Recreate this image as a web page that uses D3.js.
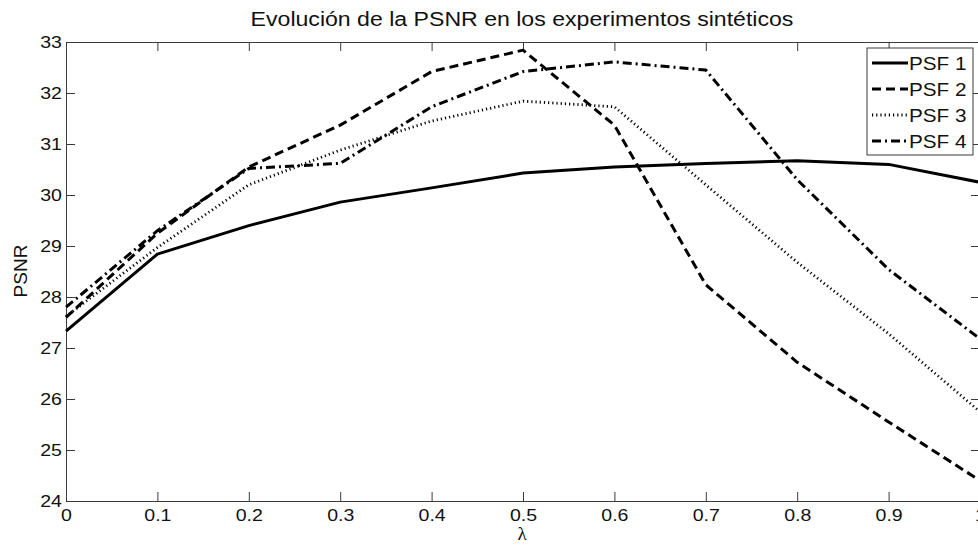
<!DOCTYPE html>
<html>
<head>
<meta charset="utf-8">
<script src="https://cdn.jsdelivr.net/npm/d3@7"></script>
<style>
  html, body { margin: 0; padding: 0; background: #fff; }
  svg { display: block; }
</style>
</head>
<body>
<svg id="chart" width="978" height="546"></svg>
<script>
// ---- data ----
const lambda = [0, 0.1, 0.2, 0.3, 0.4, 0.5, 0.6, 0.7, 0.8, 0.9, 1.0];
const psf1 = [27.33, 28.84, 29.40, 29.86, 30.14, 30.43, 30.55, 30.62, 30.67, 30.60, 30.25];
const psf2 = [27.60, 29.25, 30.55, 31.37, 32.42, 32.84, 31.37, 28.24, 26.72, 25.55, 24.40];
const psf3 = [27.62, 28.97, 30.20, 30.88, 31.45, 31.84, 31.73, 30.20, 28.68, 27.28, 25.75];
const psf4 = [27.80, 29.30, 30.52, 30.62, 31.73, 32.42, 32.61, 32.45, 30.30, 28.54, 27.18];
const seriesNames = ["PSF 1", "PSF 2", "PSF 3", "PSF 4"];
const xTicks = [0, 0.1, 0.2, 0.3, 0.4, 0.5, 0.6, 0.7, 0.8, 0.9, 1];
const yTicks = [24, 25, 26, 27, 28, 29, 30, 31, 32, 33];
const titleText = "Evolución de la PSNR en los experimentos sintéticos";
const xLabel = "λ";
const yLabel = "PSNR";

// ---- layout / styles ----
const svg = d3.select("#chart");
const L = 66, R = 980, T = 42, B = 501;
const x = d3.scaleLinear().domain([0, 1]).range([L, R]);
const y = d3.scaleLinear().domain([24, 33]).range([B, T]);
const FONT = "'Liberation Sans', Arial, Helvetica, sans-serif";
const SX = 1.15;
const styles = [
  { width: 3, dash: null },
  { width: 3, dash: "9,5" },
  { width: 2.8, dash: "1.2,3" },
  { width: 3, dash: "9,4,2,4" }
];
const series = [psf1, psf2, psf3, psf4];

const axisColor = "#3a3a3a";

function styleAxis(g, labels) {
  g.select(".domain").attr("stroke", axisColor).attr("stroke-width", 1);
  g.selectAll(".tick line").attr("stroke", axisColor).attr("stroke-width", 1);
  g.selectAll(".tick text")
    .attr("fill", "#111")
    .style("font-family", FONT)
    .style("font-size", "17px")
    .attr("transform", `scale(${SX},1)`);
  if (!labels) g.selectAll(".tick text").remove();
}

// bottom axis
const gx = svg.append("g").attr("transform", `translate(0,${B})`)
  .call(d3.axisBottom(x).tickValues(xTicks).tickSizeInner(-9).tickSizeOuter(0).tickPadding(8)
    .tickFormat(d => d3.format("")(+d.toFixed(1))));
styleAxis(gx, true);
// top axis
const gt = svg.append("g").attr("transform", `translate(0,${T})`)
  .call(d3.axisTop(x).tickValues(xTicks).tickSizeInner(-9).tickSizeOuter(0));
styleAxis(gt, false);
// left axis
const gy = svg.append("g").attr("transform", `translate(${L},0)`)
  .call(d3.axisLeft(y).tickValues(yTicks).tickSizeInner(-9).tickSizeOuter(0).tickPadding(3.5));
styleAxis(gy, true);
// right axis
const gr = svg.append("g").attr("transform", `translate(${R},0)`)
  .call(d3.axisRight(y).tickValues(yTicks).tickSizeInner(-9).tickSizeOuter(0));
styleAxis(gr, false);

// lines
const line = d3.line().x((d, i) => x(lambda[i])).y(d => y(d));
series.forEach((s, k) => {
  svg.append("path")
    .datum(s)
    .attr("d", line)
    .attr("fill", "none")
    .attr("stroke", "#000")
    .attr("stroke-width", styles[k].width)
    .attr("stroke-dasharray", styles[k].dash)
    .attr("stroke-linejoin", "round");
});

// title
svg.append("g").attr("transform", `translate(522,26) scale(1.1,1)`)
  .append("text")
  .attr("text-anchor", "middle")
  .style("font-family", FONT)
  .style("font-size", "21px")
  .attr("fill", "#111")
  .text(titleText);

// axis labels
svg.append("text")
  .attr("x", 522).attr("y", 540)
  .attr("text-anchor", "middle")
  .style("font-family", "'Liberation Serif', 'DejaVu Serif', serif")
  .style("font-size", "19px")
  .attr("fill", "#111")
  .text(xLabel);

svg.append("g").attr("transform", "translate(27,271) rotate(-90)")
  .append("text")
  .attr("text-anchor", "middle")
  .style("font-family", FONT)
  .style("font-size", "19px")
  .attr("fill", "#111")
  .text(yLabel);

// legend
const lg = svg.append("g");
lg.append("rect")
  .attr("x", 867).attr("y", 48).attr("width", 106).attr("height", 107)
  .attr("fill", "#fff").attr("stroke", axisColor).attr("stroke-width", 1);
const rowY = d3.scalePoint().domain(seriesNames).range([63, 141]);
seriesNames.forEach((n, k) => {
  const yy = rowY(n);
  lg.append("line")
    .attr("x1", 872).attr("x2", 908).attr("y1", yy).attr("y2", yy)
    .attr("stroke", "#000")
    .attr("stroke-width", styles[k].width)
    .attr("stroke-dasharray", styles[k].dash);
  lg.append("g").attr("transform", `translate(909,${yy}) scale(1.12,1)`)
    .append("text")
    .attr("dy", "0.36em")
    .style("font-family", FONT)
    .style("font-size", "18.5px")
    .attr("fill", "#111")
    .text(n);
});
</script>
</body>
</html>
